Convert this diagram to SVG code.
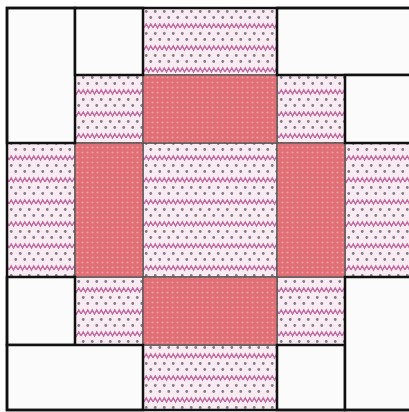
<svg xmlns="http://www.w3.org/2000/svg" width="409" height="412" viewBox="0 0 409 412">
<defs>
<pattern id="print" width="9" height="22" patternUnits="userSpaceOnUse">
<rect width="9" height="22" fill="#f8ecf2"/>
<path d="M0,6 L2.25,2 L4.5,6 L6.75,2 L9,6" fill="none" stroke="#c06aa0" stroke-width="1.4"/>
<circle cx="2.25" cy="11.5" r="1.4" fill="#867a8a"/>
<circle cx="6.75" cy="17.5" r="1.4" fill="#867a8a"/>
</pattern>
<pattern id="solid" width="5" height="5" patternUnits="userSpaceOnUse">
<rect width="5" height="5" fill="#e06f76"/>
<circle cx="2.5" cy="2.5" r="1.1" fill="#ee9ea0"/>
</pattern>
<style>
.p{fill:url(#print);stroke:#555;stroke-width:1.3}
.s{fill:url(#solid);stroke:#555;stroke-width:1.3}
.w{fill:#fbfbfb;stroke:#111;stroke-width:2.5}
</style>
</defs>
<rect width="409" height="412" fill="#ffffff"/>
<g id="print-pieces">
<rect id="p-top" class="p" x="143" y="8" width="134" height="67"/>
<rect id="p-left" class="p" x="7" y="143" width="68" height="134"/>
<rect id="p-right" class="p" x="345" y="143" width="68" height="134"/>
<rect id="p-bottom" class="p" x="143" y="345" width="134" height="65"/>
<rect id="p-tl" class="p" x="75" y="75" width="68" height="68"/>
<rect id="p-tr" class="p" x="277" y="75" width="68" height="68"/>
<rect id="p-bl" class="p" x="75" y="277" width="68" height="68"/>
<rect id="p-br" class="p" x="277" y="277" width="68" height="68"/>
<rect id="p-center" class="p" x="143" y="143" width="134" height="134"/>
</g>
<g id="solid-pieces">
<rect id="s-top" class="s" x="143" y="75" width="134" height="68"/>
<rect id="s-left" class="s" x="75" y="143" width="68" height="134"/>
<rect id="s-right" class="s" x="277" y="143" width="68" height="134"/>
<rect id="s-bottom" class="s" x="143" y="277" width="134" height="68"/>
</g>
<g id="white-pieces">
<rect id="w-tl-tall" class="w" x="7" y="8" width="68" height="135"/>
<rect id="w-tl-sq" class="w" x="75" y="8" width="68" height="67"/>
<rect id="w-tr-wide" class="w" x="277" y="8" width="136" height="67"/>
<rect id="w-tr-sq" class="w" x="345" y="75" width="68" height="68"/>
<rect id="w-bl-sq" class="w" x="7" y="277" width="68" height="68"/>
<rect id="w-bl-wide" class="w" x="7" y="345" width="136" height="65"/>
<rect id="w-br-sq" class="w" x="277" y="345" width="68" height="65"/>
<rect id="w-br-tall" class="w" x="345" y="277" width="68" height="133"/>
</g>
<g id="outline">
<rect x="7" y="8" width="406" height="402" fill="none" stroke="#111" stroke-width="2.5"/>
</g>
</svg>
